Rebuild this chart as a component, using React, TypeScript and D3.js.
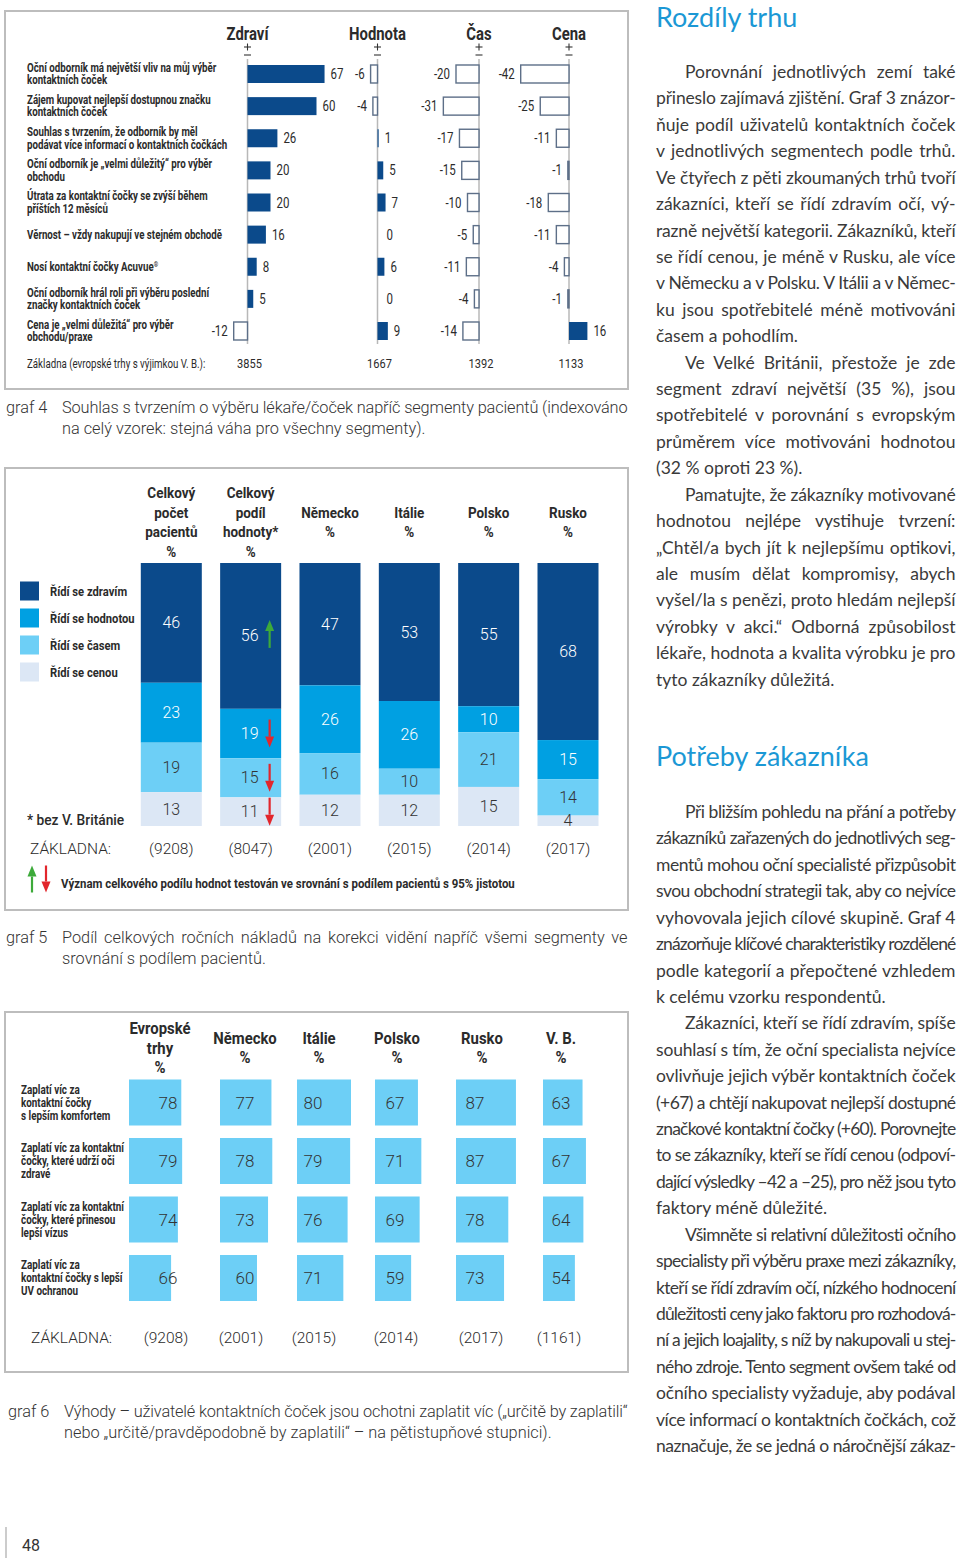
import React from 'react';
import * as d3 from 'd3';

// ---------------- graf 4 data ----------------
const g4Statements: string[][] = [
  ['Oční odborník má největší vliv na můj výběr', 'kontaktních čoček'],
  ['Zájem kupovat nejlepší dostupnou značku', 'kontaktních čoček'],
  ['Souhlas s tvrzením, že odborník by měl', 'podávat více informací o kontaktních čočkách'],
  ['Oční odborník je „velmi důležitý“ pro výběr', 'obchodu'],
  ['Útrata za kontaktní čočky se zvýší během', 'příštích 12 měsíců'],
  ['Věrnost – vždy nakupují ve stejném obchodě'],
  ['Nosí kontaktní čočky Acuvue®'],
  ['Oční odborník hrál roli při výběru poslední', 'značky kontaktních čoček'],
  ['Cena je „velmi důležitá“ pro výběr', 'obchodu/praxe'],
];
const g4Segments = ['Zdraví', 'Hodnota', 'Čas', 'Cena'];
const g4Zdravi = [67, 60, 26, 20, 20, 16, 8, 5, -12];
const g4Hodnota = [-6, -4, 1, 5, 7, 0, 6, 0, 9];
const g4Cas = [-20, -31, -17, -15, -10, -5, -11, -4, -14];
const g4Cena = [-42, -25, -11, -1, -18, -11, -4, -1, 16];
const g4Base = [3855, 1667, 1392, 1133];
const g4BaseLabel = 'Základna (evropské trhy s výjimkou V. B.):';

// ---------------- graf 5 data ----------------
const g5Columns: string[][] = [
  ['Celkový', 'počet', 'pacientů', '%'],
  ['Celkový', 'podíl', 'hodnoty*', '%'],
  ['Německo', '%'],
  ['Itálie', '%'],
  ['Polsko', '%'],
  ['Rusko', '%'],
];
const g5Segments = ['Řídí se zdravím', 'Řídí se hodnotou', 'Řídí se časem', 'Řídí se cenou'];
const g5Zdravi = [46, 56, 47, 53, 55, 68];
const g5Hodnota = [23, 19, 26, 26, 10, 15];
const g5Cas = [19, 15, 16, 10, 21, 14];
const g5Cena = [13, 11, 12, 12, 15, 4];
const g5Base = [9208, 8047, 2001, 2015, 2014, 2017];
const g5Signif = [
  { col: 1, seg: 0, dir: 1 },
  { col: 1, seg: 1, dir: -1 },
  { col: 1, seg: 2, dir: -1 },
  { col: 1, seg: 3, dir: -1 },
];

// ---------------- graf 6 data ----------------
const g6Columns: string[][] = [
  ['Evropské', 'trhy', '%'],
  ['Německo', '%'],
  ['Itálie', '%'],
  ['Polsko', '%'],
  ['Rusko', '%'],
  ['V. B.', '%'],
];
const g6Rows: string[][] = [
  ['Zaplatí víc za', 'kontaktní čočky', 's lepším komfortem'],
  ['Zaplatí víc za kontaktní', 'čočky, které udrží oči', 'zdravé'],
  ['Zaplatí víc za kontaktní', 'čočky, které přinesou', 'lepší vízus'],
  ['Zaplatí víc za', 'kontaktní čočky s lepší', 'UV ochranou'],
];
const g6Komfort = [78, 77, 80, 67, 87, 63];
const g6Zdrave = [79, 78, 79, 71, 87, 67];
const g6Vizus = [74, 73, 76, 69, 78, 64];
const g6UV = [66, 60, 71, 59, 73, 54];
const g6Base = [9208, 2001, 2015, 2014, 2017, 1161];

// ---------------- texts ----------------
const cap4 = ['Souhlas s tvrzením o výběru lékaře/čoček napříč segmenty pacientů (indexováno', 'na celý vzorek: stejná váha pro všechny segmenty).'];
const cap5 = ['Podíl celkových ročních nákladů na korekci vidění napříč všemi segmenty ve', 'srovnání s podílem pacientů.'];
const cap6 = ['Výhody – uživatelé kontaktních čoček jsou ochotni zaplatit víc („určitě by zaplatili“', 'nebo „určitě/pravděpodobně by zaplatili“ – na pětistupňové stupnici).'];
const signifText = 'Význam celkového podílu hodnot testován ve srovnání s podílem pacientů s 95% jistotou';

const title1 = 'Rozdíly trhu';
const title2 = 'Potřeby zákazníka';
const section1: string[][] = [
  ['Porovnání jednotlivých zemí také', 'přineslo zajímavá zjištění. Graf 3 znázor-', 'ňuje podíl uživatelů kontaktních čoček', 'v jednotlivých segmentech podle trhů.', 'Ve čtyřech z pěti zkoumaných trhů tvoří', 'zákazníci, kteří se řídí zdravím očí, vý-', 'razně největší kategorii. Zákazníků, kteří', 'se řídí cenou, je méně v Rusku, ale více', 'v Německu a v Polsku. V Itálii a v Němec-', 'ku jsou spotřebitelé méně motivováni', 'časem a pohodlím.'],
  ['Ve Velké Británii, přestože je zde', 'segment zdraví největší (35 %), jsou', 'spotřebitelé v porovnání s evropským', 'průměrem více motivováni hodnotou', '(32 % oproti 23 %).'],
  ['Pamatujte, že zákazníky motivované', 'hodnotou nejlépe vystihuje tvrzení:', '„Chtěl/a bych jít k nejlepšímu optikovi,', 'ale musím dělat kompromisy, abych', 'vyšel/la s penězi, proto hledám nejlepší', 'výrobky v akci.“ Odborná způsobilost', 'lékaře, hodnota a kvalita výrobku je pro', 'tyto zákazníky důležitá.'],
];
const section2: string[][] = [
  ['Při bližším pohledu na přání a potřeby', 'zákazníků zařazených do jednotlivých seg-', 'mentů mohou oční specialisté přizpůsobit', 'svou obchodní strategii tak, aby co nejvíce', 'vyhovovala jejich cílové skupině. Graf 4', 'znázorňuje klíčové charakteristiky rozdělené', 'podle kategorií a přepočtené vzhledem', 'k celému vzorku respondentů.'],
  ['Zákazníci, kteří se řídí zdravím, spíše', 'souhlasí s tím, že oční specialista nejvíce', 'ovlivňuje jejich výběr kontaktních čoček', '(+67) a chtějí nakupovat nejlepší dostupné', 'značkové kontaktní čočky (+60). Porovnejte', 'to se zákazníky, kteří se řídí cenou (odpoví-', 'dající výsledky –42 a –25), pro něž jsou tyto', 'faktory méně důležité.'],
  ['Všimněte si relativní důležitosti očního', 'specialisty při výběru praxe mezi zákazníky,', 'kteří se řídí zdravím očí, nízkého hodnocení', 'důležitosti ceny jako faktoru pro rozhodová-', 'ní a jejich loajality, s níž by nakupovali u stej-', 'ného zdroje. Tento segment ovšem také od', 'očního specialisty vyžaduje, aby podával', 'více informací o kontaktních čočkách, což', 'naznačuje, že se jedná o náročnější zákaz-'],
];

// ---------------- style ----------------
const SANS = 'Roboto, "Noto Sans", sans-serif';
const BODY = 'Lato, "Open Sans", sans-serif';
const DARK = '#0b4a8b';
const TXT = '#2b2b2b';
const BOX = '#bdbdbd';
const SEG_COLORS = ['#0b4a8b', '#00a0e2', '#6dcff6', '#dce7f5'];
const CELL = '#6dcff6';

type TP = {
  x: number; y: number; sx?: number; size: number; weight?: number; fill?: string;
  family?: string; anchor?: 'start' | 'middle' | 'end'; w?: number; children: React.ReactNode;
};
function T({ x, y, sx = 1, size, weight = 400, fill = TXT, family = SANS, anchor = 'start', w, children }: TP) {
  return (
    <text
      transform={`translate(${x},${y}) scale(${sx},1)`}
      fontSize={size}
      fontWeight={weight}
      fill={fill}
      fontFamily={family}
      textAnchor={anchor}
      data-w={w !== undefined ? w / sx : undefined}
    >
      {children}
    </text>
  );
}

function Arrow({ x, cy, dir, len = 28, color }: { x: number; cy: number; dir: number; len?: number; color: string }) {
  const head = dir > 0 ? cy - len / 2 : cy + len / 2;
  const tail = dir > 0 ? cy + len / 2 : cy - len / 2;
  const hb = head + dir * 11;
  return (
    <g>
      <line x1={x} x2={x} y1={tail} y2={hb} stroke={color} strokeWidth={2.2} />
      <path d={`M${x},${head} L${x - 4.5},${hb} L${x + 4.5},${hb} Z`} fill={color} />
    </g>
  );
}

function Graf4() {
  const cols = [g4Zdravi, g4Hodnota, g4Cas, g4Cena];
  const axisX = [247.5, 377.5, 479, 569];
  const len = d3.scaleLinear().domain([0, 100]).range([0, 115]);
  const y = d3.scalePoint<number>().domain(d3.range(g4Statements.length)).range([74, 331]);
  const bh = 18;
  return (
    <g>
      <rect x={5} y={11} width={623} height={378} fill="none" stroke={BOX} strokeWidth={2} />
      {g4Statements.map((lines, i) => {
        const cy = y(i)!;
        return lines.map((l, j) => (
          <T key={i + '-' + j} x={27} y={cy + (j - (lines.length - 1) / 2) * 12.5 + 4} size={12} weight={700} sx={0.81}>
            {l.endsWith('®') ? (<>{l.slice(0, -1)}<tspan fontSize={7} dy={-4}>®</tspan></>) : l}
          </T>
        ));
      })}
      {g4Segments.map((s, k) => {
        const ax = axisX[k];
        return (
          <g key={s}>
            <T x={ax} y={40} size={17.5} weight={700} sx={0.85} anchor="middle">{s}</T>
            <line x1={ax - 3.5} x2={ax + 3.5} y1={47} y2={47} stroke="#333" strokeWidth={1.1} />
            <line x1={ax} x2={ax} y1={43.5} y2={50.5} stroke="#333" strokeWidth={1.1} />
            <line x1={ax - 3.5} x2={ax + 3.5} y1={55} y2={55} stroke="#333" strokeWidth={1.1} />
            <line x1={ax} x2={ax} y1={59} y2={344} stroke="#b8b8b8" strokeWidth={1.5} />
            {cols[k].map((v, i) => {
              const cy = y(i)!;
              const L = len(Math.abs(v));
              return (
                <g key={i}>
                  {v > 0 && <rect x={ax} y={cy - bh / 2} width={L} height={bh} fill={DARK} />}
                  {v < 0 && <rect x={ax - L} y={cy - bh / 2} width={L} height={bh} fill="#fff" stroke="#5d6f88" strokeWidth={1.4} />}
                  <T x={v < 0 ? ax - L - 6 : ax + L + (v === 0 ? 9 : 6)} y={cy + 5} size={14} sx={0.82} anchor={v < 0 ? 'end' : 'start'}>
                    {String(v)}
                  </T>
                </g>
              );
            })}
            <T x={ax + 2} y={368} size={13} sx={0.85} anchor="middle">{String(g4Base[k])}</T>
          </g>
        );
      })}
      <T x={27} y={368} size={12} sx={0.81}>{g4BaseLabel}</T>
    </g>
  );
}

function Graf5() {
  const keys = [0, 1, 2, 3];
  const series = [g5Zdravi, g5Hodnota, g5Cas, g5Cena];
  const data = g5Columns.map((_, i) => {
    const o: any = { i };
    keys.forEach((k) => (o[k] = series[k][i]));
    return o;
  });
  const stacked = d3.stack<any>().keys(keys.map(String)).offset(d3.stackOffsetExpand)(data);
  const x = d3.scalePoint<number>().domain(d3.range(g5Columns.length)).range([171.3, 568]);
  const y = d3.scaleLinear().domain([0, 1]).range([563, 826]);
  const bw = 61;
  return (
    <g>
      <rect x={5} y={468} width={623} height={442} fill="none" stroke={BOX} strokeWidth={2} />
      {g5Columns.map((lines, i) =>
        lines.map((l, j) => (
          <T key={i + '-' + j} x={x(i)!} y={522.5 + (j - (lines.length - 1) / 2) * 19.7 + 5} size={15.5} weight={700} sx={0.87} anchor="middle">{l}</T>
        ))
      )}
      {g5Segments.map((s, k) => (
        <g key={s}>
          <rect x={20} y={591 + k * 27 - 9.5} width={19} height={19} fill={SEG_COLORS[k]} />
          <T x={50} y={591 + k * 27 + 4.5} size={13.5} weight={700} sx={0.83}>{s}</T>
        </g>
      ))}
      {stacked.map((s, k) => (
        <g key={k}>
          {s.map((d, i) => {
            const y0 = y(d[0]);
            const y1 = y(d[1]);
            return (
              <g key={i}>
                <rect x={x(i)! - bw / 2} y={y0} width={bw} height={y1 - y0} fill={SEG_COLORS[k]} />
                <T x={x(i)! - (i === 1 ? 1 : 0)} y={(y0 + y1) / 2 + 5.5} size={16} weight={300} fill={k < 2 ? '#fff' : '#333'} anchor="middle">
                  {String(series[k][i])}
                </T>
              </g>
            );
          })}
        </g>
      ))}
      {g5Signif.map((a, n) => {
        const d = stacked[a.seg][a.col];
        const cy = (y(d[0]) + y(d[1])) / 2;
        return <Arrow key={n} x={x(a.col)! + 19} cy={cy + (a.dir > 0 ? -2 : 0)} dir={a.dir} color={a.dir > 0 ? '#3daa3a' : '#e2262c'} />;
      })}
      <T x={27} y={825} size={14.5} weight={500} sx={0.95}>* bez V. Británie</T>
      <T x={30} y={854} size={15.5} weight={300} sx={1}>ZÁKLADNA:</T>
      {g5Base.map((b, i) => (
        <T key={i} x={x(i)!} y={854} size={15.5} weight={300} anchor="middle">{`(${b})`}</T>
      ))}
      <Arrow x={32} cy={879} dir={1} len={27} color="#3daa3a" />
      <Arrow x={46} cy={879} dir={-1} len={27} color="#e2262c" />
      <T x={61} y={888} size={13} weight={700} sx={0.88}>{signifText}</T>
    </g>
  );
}

function Graf6() {
  const rowsVals = [g6Komfort, g6Zdrave, g6Vizus, g6UV];
  const headX = [160, 245, 319, 397, 482, 561];
  const cellX = [129, 220, 297, 375, 456, 543];
  const numX = [168, 245, 313, 395, 475, 561];
  const baseX = [166, 241, 314, 396, 481, 559];
  const y = d3.scalePoint<number>().domain(d3.range(g6Rows.length)).range([1102.5, 1278]);
  const w = d3.scaleLinear().domain([16.5, 100]).range([0, 71]);
  const ch = 46;
  return (
    <g>
      <rect x={5} y={1012} width={623} height={360} fill="none" stroke={BOX} strokeWidth={2} />
      {g6Columns.map((lines, i) =>
        lines.map((l, j) => (
          <T key={i + '-' + j} x={headX[i]} y={1048 + (j - (lines.length - 1) / 2) * 19.7 + 5.5} size={16} weight={700} sx={0.93} anchor="middle">{l}</T>
        ))
      )}
      {g6Rows.map((lines, r) => (
        <g key={r}>
          {lines.map((l, j) => (
            <T key={j} x={21} y={y(r)! + (j - 1) * 13 + 4} size={12.5} weight={700} sx={0.79}>{l}</T>
          ))}
          {rowsVals[r].map((v, i) => (
            <g key={i}>
              <rect x={cellX[i]} y={y(r)! - ch / 2} width={w(v)} height={ch} fill={CELL} />
              <T x={numX[i]} y={y(r)! + 6} size={17} weight={300} fill="#333" anchor="middle">{String(v)}</T>
            </g>
          ))}
        </g>
      ))}
      <T x={31} y={1343} size={15.5} weight={300}>ZÁKLADNA:</T>
      {g6Base.map((b, i) => (
        <T key={i} x={baseX[i]} y={1343} size={15.5} weight={300} anchor="middle">{`(${b})`}</T>
      ))}
    </g>
  );
}

function Caption({ label, lines, y, x0 }: { label: string; lines: string[]; y: number; x0: number }) {
  return (
    <g>
      <T x={x0 - 56} y={y} size={16} weight={300} sx={1.02} fill="#333">{label}</T>
      {lines.map((l, j) => (
        <T key={j} x={x0} y={y + j * 20.5} size={16} weight={300} sx={1.02} fill="#333" w={j < lines.length - 1 ? 628 - x0 : undefined}>{l}</T>
      ))}
    </g>
  );
}

function Column({ title, titleY, paras, y0, cont }: { title: string; titleY: number; paras: string[][]; y0: number; cont: boolean }) {
  const lh = 26.42;
  let n = 0;
  const out: React.ReactNode[] = [];
  paras.forEach((p, pi) => {
    p.forEach((l, j) => {
      const x = 656 + (j === 0 ? 29 : 0);
      const justify = j < p.length - 1 || (cont && pi === paras.length - 1);
      out.push(
        <T key={pi + '-' + j} x={x} y={y0 + n * lh} size={17.5} weight={400} family={BODY} fill="#3a3a3a" w={justify ? 956 - x : undefined}>{l}</T>
      );
      n++;
    });
  });
  return (
    <g>
      <T x={656} y={titleY} size={27} weight={400} family={BODY} fill="#1b98d5">{title}</T>
      {out}
    </g>
  );
}

export default function App() {
  const ref = React.useRef<SVGSVGElement>(null);
  React.useLayoutEffect(() => {
    const run = () => {
      const svg = ref.current;
      if (!svg) return;
      svg.querySelectorAll('text[data-w]').forEach((node) => {
        const el = node as SVGTextElement;
        el.style.wordSpacing = '0px';
        el.style.letterSpacing = '0px';
        const target = +(el.getAttribute('data-w') || 0) - 0.5;
        const txt = el.textContent || '';
        let nat = el.getComputedTextLength();
        if (nat > target) {
          el.style.letterSpacing = (target - nat) / txt.length + 'px';
          nat = el.getComputedTextLength();
        }
        const spaces = (txt.match(/ /g) || []).length;
        if (nat < target && spaces > 0) {
          el.style.wordSpacing = (target - nat) / spaces + 'px';
        }
      });
    };
    run();
    const f = (document as any).fonts;
    if (f && f.ready) f.ready.then(run);
  }, []);
  return (
    <svg ref={ref} width={960} height={1558} style={{ position: 'absolute', left: 0, top: 0, background: '#fff' }}>
      <rect width={960} height={1558} fill="#fff" />
      <Graf4 />
      <Caption label="graf 4" lines={cap4} y={413} x0={62} />
      <Graf5 />
      <Caption label="graf 5" lines={cap5} y={943} x0={62} />
      <Graf6 />
      <Caption label="graf 6" lines={cap6} y={1417} x0={64} />
      <Column title={title1} titleY={27} paras={section1} y0={78} cont={false} />
      <Column title={title2} titleY={766} paras={section2} y0={818} cont={true} />
      <line x1={6} x2={6} y1={1527} y2={1558} stroke="#999" strokeWidth={1} />
      <T x={22} y={1551} size={16} weight={400} fill="#333">48</T>
    </svg>
  );
}
